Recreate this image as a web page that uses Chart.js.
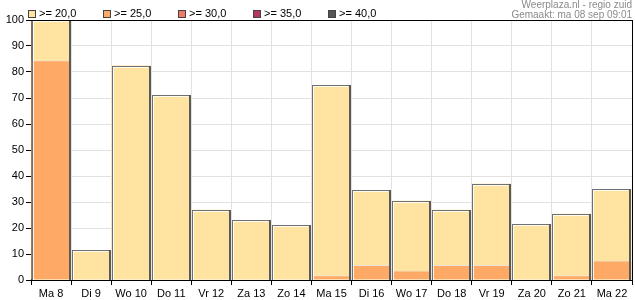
<!DOCTYPE html>
<html lang="nl">
<head>
    <meta charset="UTF-8">
    <title>Weerplaza - regio zuid</title>
    <script src="https://cdn.jsdelivr.net/npm/chart.js"></script>
    <style>
        body {
            margin: 0;
            background-color: #ffffff;
        }
        .wrap {
            width: 635px;
            height: 300px;
        }
    </style>
</head>
<body>
    <div class="wrap">
        <canvas id="tempChart" width="635" height="300"></canvas>
    </div>

    <script>
        // Data
        const days = ['Ma 8', 'Di 9', 'Wo 10', 'Do 11', 'Vr 12', 'Za 13', 'Zo 14', 'Ma 15',
                      'Di 16', 'Wo 17', 'Do 18', 'Vr 19', 'Za 20', 'Zo 21', 'Ma 22'];
        const over20 = [100, 11.5, 82.5, 71, 27, 23, 21, 75, 34.5, 30.5, 27, 37, 21.5, 25.5, 35];
        const over25 = [84.5, 0, 0, 0, 0, 0, 0, 1.8, 5.8, 3.7, 5.8, 5.8, 0, 1.8, 7.5];
        const over30 = [];
        const over35 = [];
        const over40 = [];
        const yTicks = [0, 10, 20, 30, 40, 50, 60, 70, 80, 90, 100];

        const FONT = 'Arial, "Liberation Sans", sans-serif';

        // outline of each bar: gray left/top, white inner line, dark right edge
        const barBevel = {
            id: 'barBevel',
            afterDatasetsDraw(chart) {
                const ctx = chart.ctx;
                const meta = chart.getDatasetMeta(0);
                ctx.save();
                meta.data.forEach(bar => {
                    const left = Math.round(bar.x - bar.width / 2);
                    const right = Math.round(bar.x + bar.width / 2);
                    const top = Math.round(bar.y);
                    const bottom = Math.round(bar.base);
                    const h = bottom - top;
                    if (h <= 0) return;
                    ctx.fillStyle = '#707070';
                    ctx.fillRect(left, top, 1, h);
                    ctx.fillRect(left, top, right - left, 1);
                    ctx.fillStyle = 'rgba(255,255,255,0.85)';
                    ctx.fillRect(left + 1, top + 1, 1, h - 1);
                    ctx.fillRect(left + 1, top + 1, right - left - 4, 1);
                    ctx.fillStyle = '#5a5a5a';
                    ctx.fillRect(right - 2, top, 2, h);
                });
                ctx.restore();
            }
        };

        // frame on top/right, legend and the header text
        const decorations = {
            id: 'decorations',
            afterDraw(chart) {
                const ctx = chart.ctx;
                const area = chart.chartArea;
                ctx.save();
                ctx.fillStyle = '#000';
                ctx.fillRect(area.left, area.top, area.right - area.left + 1, 1);
                ctx.fillRect(area.right, area.top, 1, area.bottom - area.top);

                // legend
                ctx.font = '11px ' + FONT;
                ctx.textBaseline = 'middle';
                ctx.textAlign = 'left';
                chart.data.datasets.forEach((ds, i) => {
                    const x = 28 + i * 75;
                    ctx.fillStyle = ds.backgroundColor;
                    ctx.fillRect(x, 10, 7, 7);
                    ctx.strokeStyle = '#444';
                    ctx.lineWidth = 1;
                    ctx.strokeRect(x + 0.5, 10.5, 7, 7);
                    ctx.fillStyle = '#000';
                    ctx.fillText(ds.label, x + 11, 14);
                });

                // source text
                ctx.font = '10px ' + FONT;
                ctx.textAlign = 'right';
                ctx.textBaseline = 'alphabetic';
                ctx.fillStyle = '#8a8a8a';
                ctx.fillText('Weerplaza.nl - regio zuid', 632, 8);
                ctx.fillText('Gemaakt: ma 08 sep 09:01', 632, 18);
                ctx.restore();
            }
        };

        const ctx = document.getElementById('tempChart').getContext('2d');
        new Chart(ctx, {
            type: 'bar',
            data: {
                labels: days,
                datasets: [
                    {
                        label: '>= 20,0',
                        data: over20,
                        backgroundColor: '#ffe3a0',
                        borderWidth: 0,
                        order: 2
                    },
                    {
                        label: '>= 25,0',
                        data: over25,
                        backgroundColor: '#ffa966',
                        borderColor: '#ece4d6',
                        borderWidth: c => (c.raw > 0 ? { top: 1, left: 0, right: 0, bottom: 0 } : 0),
                        borderSkipped: 'bottom',
                        order: 1
                    },
                    { label: '>= 30,0', data: over30, backgroundColor: '#f07a66' },
                    { label: '>= 35,0', data: over35, backgroundColor: '#b33663' },
                    { label: '>= 40,0', data: over40, backgroundColor: '#555555' }
                ]
            },
            options: {
                responsive: false,
                animation: false,
                layout: {
                    padding: { top: 20, right: 3, left: 0, bottom: 0 }
                },
                datasets: {
                    bar: {
                        barPercentage: 0.975,
                        categoryPercentage: 1
                    }
                },
                plugins: {
                    legend: { display: false },
                    tooltip: { enabled: false }
                },
                scales: {
                    x: {
                        stacked: true,
                        offset: true,
                        grid: {
                            offset: true,
                            color: '#e2e2e2',
                            tickColor: '#000',
                            tickLength: 5
                        },
                        border: { color: '#000' },
                        ticks: {
                            color: '#000',
                            font: { family: FONT, size: 11 },
                            maxRotation: 0,
                            autoSkip: false,
                            padding: 2
                        },
                        afterFit(scale) { scale.height = 20; }
                    },
                    y: {
                        stacked: false,
                        min: 0,
                        max: 100,
                        afterBuildTicks(scale) {
                            scale.ticks = yTicks.map(v => ({ value: v }));
                        },
                        grid: {
                            color: '#e2e2e2',
                            tickColor: '#000',
                            tickLength: 5
                        },
                        border: { color: '#000' },
                        ticks: {
                            color: '#000',
                            font: { family: FONT, size: 11 },
                            padding: 2
                        },
                        afterFit(scale) { scale.width = 31; }
                    }
                }
            },
            plugins: [barBevel, decorations]
        });
    </script>
</body>
</html>
